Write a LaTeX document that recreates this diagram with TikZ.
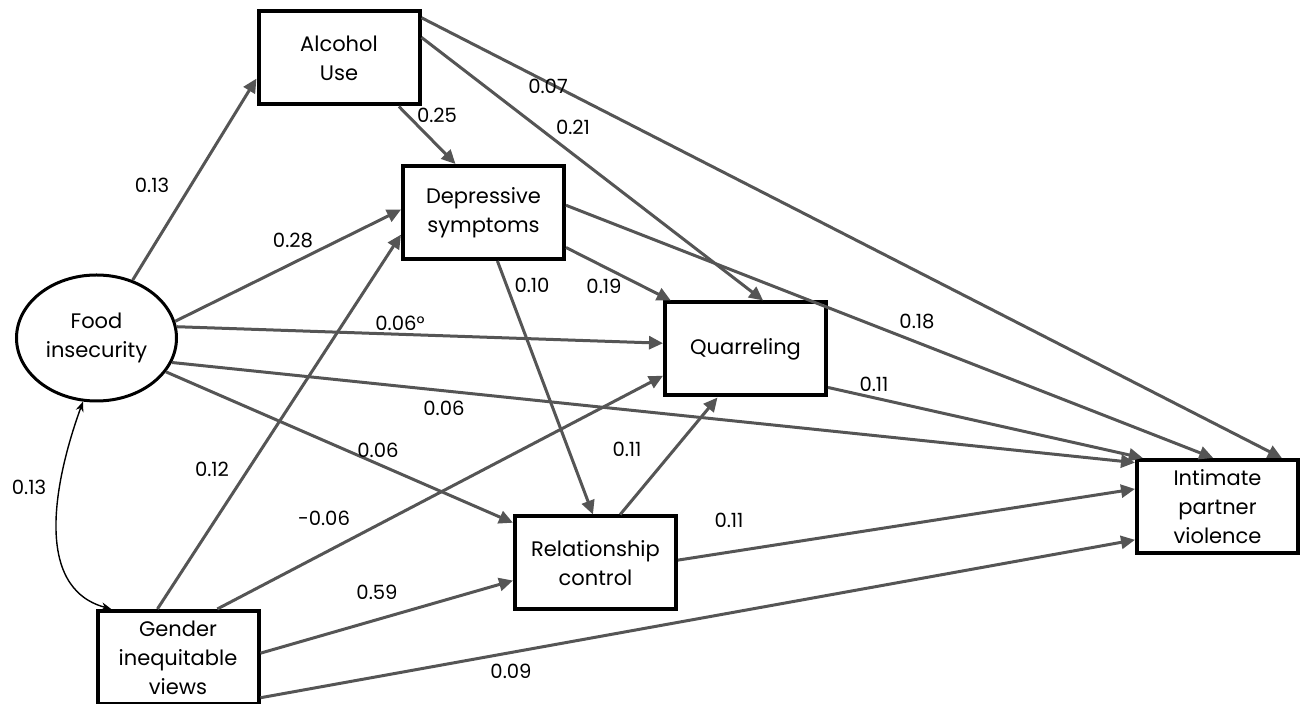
\documentclass[tikz,border=0pt]{standalone}
\usepackage{fontspec}
\setmainfont{Poppins}
\usetikzlibrary{arrows.meta,shapes.geometric}
\definecolor{linkgray}{RGB}{85,85,85}

\begin{document}
\begin{tikzpicture}[x=0.5pt,y=-0.5pt,
  >={Triangle[length=7pt,width=6.5pt]},
  box/.style={shape=rectangle,draw,line width=2pt,minimum width=80.5pt,minimum height=46.5pt,inner sep=0pt,align=center,font=\fontsize{10.5}{14.5}\selectfont},
  link/.style={->,draw=linkgray,line width=1.5pt},
  coef/.style={inner sep=0pt,font=\fontsize{9.8}{11}\selectfont}]
\useasboundingbox (0,0) rectangle (1307,704);
% variables
\path (96.5,338) node (food) [shape=ellipse,draw,line width=1.5pt,minimum width=80pt,minimum height=63pt,inner sep=0pt,align=center,font=\fontsize{10.5}{14.5}\selectfont] {Food\\insecurity};
\path (339,58) node (alcohol) [box] {Alcohol\\Use};
\path (483.5,212.5) node (depress) [box] {Depressive\\symptoms};
\path (745.5,349) node (quarrel) [box] {Quarreling};
\path (595.5,563) node (control) [box] {Relationship\\control};
\path (1217.5,506.5) node (ipv) [box] {Intimate\\partner\\violence};
\path (178,657.5) node (gender) [box] {Gender\\inequitable\\views};

% paths
\draw [link] (food.58) to (alcohol.194);
\draw [link] (alcohol.-39) to (depress.120);
\draw [link] (alcohol.14) to (quarrel.70);
\draw [link] (alcohol.26) to (ipv.37);
\draw [link] (food.12) to (depress.178);
\draw [link] (food.8) to (quarrel.176);
\draw [link] (food.-18) to (ipv.152);
\draw [link] (food.-26) to (control.154);
\draw [link] (depress.-23) to (quarrel.147);
\draw [link] (depress.-74) to (control.93);
\draw [link] (depress.5) to (ipv.95);
\draw [link] (quarrel.-25) to (ipv.147);
\draw [link] (control.63) to (quarrel.240);
\draw [link] (control.2) to (ipv.168);
\draw [link] (gender.113) to (depress.195);
\draw [link] (gender.51) to (quarrel.198);
\draw [link] (gender.3) to (control.192);
\draw [link] (gender.-26) to (ipv.202);
\draw [{Stealth[length=5pt,width=4pt]}-{Stealth[length=5pt,width=4pt]},line width=0.7pt] (food.258) to [out=250,in=165] (gender.144);

% coefficients
\path (152,185) node (c-fa) [coef] {0.13};
\path (437,115) node (c-ad) [coef] {0.25};
\path (548,86) node (c-ai) [coef] {0.07};
\path (573,127) node (c-aq) [coef] {0.21};
\path (293,240) node (c-fd) [coef] {0.28};
\path (532,285) node (c-dc) [coef] {0.10};
\path (604,286) node (c-dq) [coef] {0.19};
\path (400,323) node (c-fq) [coef] {0.06°};
\path (917,322) node (c-di) [coef] {0.18};
\path (874,384) node (c-qi) [coef] {0.11};
\path (444,408) node (c-fi) [coef] {0.06};
\path (212,469) node (c-gd) [coef] {0.12};
\path (378,450) node (c-fc) [coef] {0.06};
\path (627,449) node (c-cq) [coef] {0.11};
\path (29,487) node (c-fg) [coef] {0.13};
\path (324,518) node (c-gq) [coef] {-0.06};
\path (729,520) node (c-ci) [coef] {0.11};
\path (377,592) node (c-gc) [coef] {0.59};
\path (511,671) node (c-gi) [coef] {0.09};
\end{tikzpicture}
\end{document}
